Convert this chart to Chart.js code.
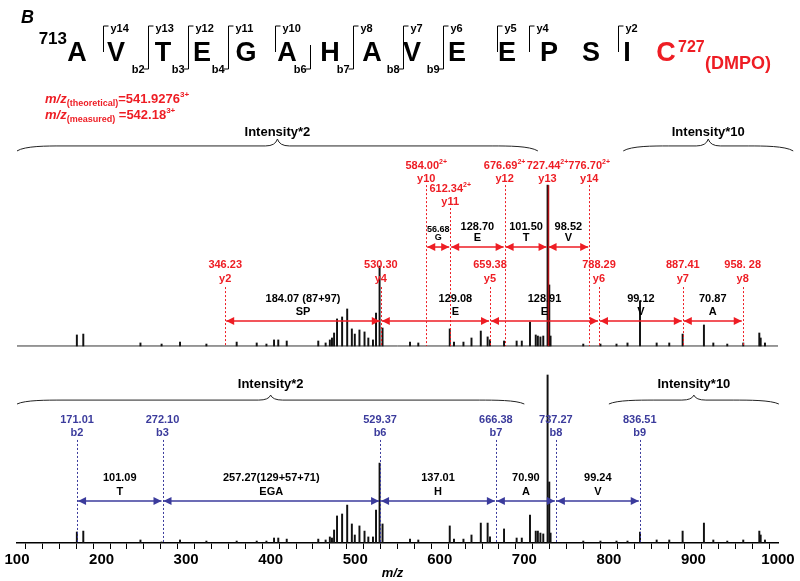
<!DOCTYPE html>
<html>
<head>
<meta charset="utf-8">
<title>MS/MS spectrum - peptide 713-727 (DMPO)</title>
<script src="https://cdn.jsdelivr.net/npm/chart.js@4.4.0/dist/chart.umd.min.js"></script>
<style>
  html, body { margin: 0; padding: 0; background: #fff; }
  #wrap { width: 800px; height: 581px; }
</style>
</head>
<body>
<div id="wrap"><canvas id="spectrum" width="800" height="581"></canvas></div>
<script>
// peak list, m/z and relative intensity (upper and lower trace)
var peakMz = [170.8, 178.4, 246.0, 271.0, 292.8, 324.0, 359.8, 383.5, 395.0, 404.0,
	409.0, 419.0, 456.3, 465.0, 470.0, 472.5, 475.0, 478.5, 484.5, 490.5,
	496.0, 499.5, 505.0, 511.0, 515.5, 521.0, 524.6, 528.8, 532.3, 564.8,
	574.6, 611.8, 616.8, 628.0, 637.5, 648.5, 656.6, 659.4, 676.0, 690.9,
	697.0, 706.7, 713.5, 716.0, 719.0, 722.4, 727.5, 729.5, 731.0, 769.7,
	790.0, 809.0, 822.0, 836.8, 856.5, 871.4, 887.2, 912.4, 923.5, 940.0,
	958.9, 977.9, 979.5, 984.6];
var topInt = [6.2, 6.7, 1.7, 1.1, 2.2, 1.1, 2.2, 1.7, 1.1, 3.4,
	3.4, 2.8, 2.8, 1.7, 3.4, 4.5, 7.3, 15.2, 16.3, 20.8,
	9.6, 6.7, 9.0, 7.9, 4.5, 3.4, 18.5, 44.9, 10.1, 2.2,
	1.7, 9.6, 2.2, 2.2, 4.5, 8.4, 5.1, 3.4, 2.8, 2.8,
	2.8, 13.5, 6.2, 5.6, 5.1, 5.6, 90.4, 34.3, 5.6, 1.1,
	1.1, 1.1, 1.7, 25.3, 1.7, 1.7, 6.7, 11.8, 1.7, 1.1,
	1.7, 7.3, 4.5, 1.7];
var bottomInt = [6.2, 6.7, 1.7, 0.6, 1.7, 1.1, 1.1, 1.1, 1.1, 2.8,
	2.8, 2.2, 2.2, 1.7, 3.4, 2.8, 7.3, 15.2, 16.3, 21.3,
	10.7, 4.5, 9.6, 6.7, 3.4, 3.4, 18.5, 44.9, 10.7, 2.2,
	1.7, 9.6, 2.2, 2.2, 4.5, 11.2, 11.2, 3.4, 7.9, 2.8,
	2.8, 15.7, 6.7, 6.7, 5.6, 5.1, 94.4, 34.3, 5.6, 1.1,
	1.1, 1.1, 1.1, 6.2, 1.7, 1.7, 6.7, 11.2, 1.7, 1.1,
	1.7, 6.7, 4.5, 1.7];

// y ions, singly charged
var yMz = [346.23, 530.30, 659.38, 788.29, 887.41, 958.28];
var yText = ['346.23', '530.30', '659.38', '788.29', '887.41', '958. 28'];
var yName = ['y2', 'y4', 'y5', 'y6', 'y7', 'y8'];
var yGap = ['184.07 (87+97)', '129.08', '128.91', '99.12', '70.87'];
var yGapAa = ['SP', 'E', 'E', 'V', 'A'];

// y ions, doubly charged
var y2Mz = [584.00, 612.34, 676.69, 727.44, 776.70];
var y2Text = ['584.00', '612.34', '676.69', '727.44', '776.70'];
var y2Name = ['y10', 'y11', 'y12', 'y13', 'y14'];
var y2Gap = ['56.68', '128.70', '101.50', '98.52'];
var y2GapAa = ['G', 'E', 'T', 'V'];

// b ions
var bMz = [171.01, 272.10, 529.37, 666.38, 737.27, 836.51];
var bText = ['171.01', '272.10', '529.37', '666.38', '737.27', '836.51'];
var bName = ['b2', 'b3', 'b6', 'b7', 'b8', 'b9'];
var bGap = ['101.09', '257.27(129+57+71)', '137.01', '70.90', '99.24'];
var bGapAa = ['T', 'EGA', 'H', 'A', 'V'];

// scaling regions
var braceFrom = [100, 817];
var braceTo = [716, 1018];
var braceFromBot = [100, 800];
var braceToBot = [700, 1001];
var braceText = ['Intensity*2', 'Intensity*10'];

var residues = ['A', 'V', 'T', 'E', 'G', 'A', 'H', 'A', 'V', 'E', 'E', 'P', 'S', 'I'];

var red = '#ee1d24';
var blue = '#3b3b9c';
var fam = 'Arial, "Liberation Sans", Helvetica, sans-serif';

function text(ctx, s, x, y, font, color, align) {
	ctx.font = font;
	ctx.fillStyle = color;
	ctx.textAlign = align || 'center';
	ctx.textBaseline = 'middle';
	ctx.fillText(s, x, y);
}

// value with a small superscript, centred as a whole on x
function supText(ctx, main, sup, x, y, size, color) {
	ctx.font = 'bold ' + size + 'px ' + fam;
	var w1 = ctx.measureText(main).width;
	ctx.font = 'bold ' + (size - 4) + 'px ' + fam;
	var w2 = ctx.measureText(sup).width;
	var x0 = x - (w1 + w2) / 2;
	text(ctx, main, x0, y, 'bold ' + size + 'px ' + fam, color, 'left');
	text(ctx, sup, x0 + w1, y - 4, 'bold ' + (size - 4) + 'px ' + fam, color, 'left');
}

function vline(ctx, x, y1, y2, color, dashed, width) {
	ctx.save();
	ctx.strokeStyle = color;
	ctx.lineWidth = width || 1;
	if (dashed) ctx.setLineDash([2, 2]);
	ctx.beginPath();
	ctx.moveTo(Math.round(x) + 0.5, y1);
	ctx.lineTo(Math.round(x) + 0.5, y2);
	ctx.stroke();
	ctx.restore();
}

function arrow(ctx, x1, x2, y, color) {
	var h = 8, w = 4;
	ctx.save();
	ctx.strokeStyle = color;
	ctx.fillStyle = color;
	ctx.lineWidth = 1.5;
	ctx.beginPath();
	ctx.moveTo(x1 + 1, y);
	ctx.lineTo(x2 - 1, y);
	ctx.stroke();
	ctx.beginPath();
	ctx.moveTo(x1 + 1, y);
	ctx.lineTo(x1 + 1 + h, y - w);
	ctx.lineTo(x1 + 1 + h, y + w);
	ctx.closePath();
	ctx.fill();
	ctx.beginPath();
	ctx.moveTo(x2 - 1, y);
	ctx.lineTo(x2 - 1 - h, y - w);
	ctx.lineTo(x2 - 1 - h, y + w);
	ctx.closePath();
	ctx.fill();
	ctx.restore();
}

function brace(ctx, x1, x2, yEnd, yFlat, yTip) {
	var xm = (x1 + x2) / 2;
	ctx.save();
	ctx.strokeStyle = '#222';
	ctx.lineWidth = 1;
	ctx.beginPath();
	ctx.moveTo(x1, yEnd);
	ctx.bezierCurveTo(x1 + 8, yFlat, x1 + 30, yFlat, x1 + 45, yFlat);
	ctx.lineTo(xm - 12, yFlat);
	ctx.quadraticCurveTo(xm - 2, yFlat, xm, yTip);
	ctx.quadraticCurveTo(xm + 2, yFlat, xm + 12, yFlat);
	ctx.lineTo(x2 - 45, yFlat);
	ctx.bezierCurveTo(x2 - 30, yFlat, x2 - 8, yFlat, x2, yEnd);
	ctx.stroke();
	ctx.restore();
}

function runs(ctx, parts, x, y, color) {
	ctx.fillStyle = color;
	ctx.textAlign = 'left';
	ctx.textBaseline = 'alphabetic';
	parts.forEach(function (p) {
		ctx.font = p[1] + ' ' + fam;
		ctx.fillText(p[0], x, y + (p[2] || 0));
		x += ctx.measureText(p[0]).width;
	});
}

function drawHeader(ctx) {
	ctx.save();
	ctx.fillStyle = '#000';
	ctx.textBaseline = 'alphabetic';
	ctx.textAlign = 'left';
	ctx.font = 'italic bold 18px ' + fam;
	ctx.fillText('B', 21, 23);

	ctx.textAlign = 'right';
	ctx.font = 'bold 17px ' + fam;
	ctx.fillText('713', 67, 44);

	var resX = [77, 116, 163, 202, 246, 287, 330, 372, 412, 457, 507, 549, 591, 627];
	ctx.textAlign = 'center';
	ctx.font = 'bold 27px ' + fam;
	residues.forEach(function (r, i) {
		ctx.fillText(r, resX[i], 61);
	});

	ctx.fillStyle = red;
	ctx.fillText('C', 666, 61);
	ctx.textAlign = 'left';
	ctx.font = 'bold 16px ' + fam;
	ctx.fillText('727', 678, 52);
	ctx.font = 'bold 18px ' + fam;
	ctx.fillText('(DMPO)', 705, 69);

	// cleavage brackets
	var sites = [
		[103, 'y14', null], [148, 'y13', 'b2'], [188, 'y12', 'b3'], [228, 'y11', 'b4'],
		[275, 'y10', null], [310, null, 'b6'], [353, 'y8', 'b7'], [403, 'y7', 'b8'],
		[443, 'y6', 'b9'], [497, 'y5', null], [529, 'y4', null], [618, 'y2', null]
	];
	ctx.strokeStyle = '#000';
	ctx.lineWidth = 1;
	sites.forEach(function (s) {
		var x = s[0] + 0.5;
		var top = s[1] ? 26 : 45;
		var bot = s[2] ? 69 : 52;
		ctx.beginPath();
		if (s[1]) { ctx.moveTo(x + 5, top); ctx.lineTo(x, top); }
		else ctx.moveTo(x, top);
		ctx.lineTo(x, bot);
		if (s[2]) ctx.lineTo(x - 5, bot);
		ctx.stroke();
		if (s[1]) text(ctx, s[1], x + 7, 29, 'bold 11px ' + fam, '#000', 'left');
		if (s[2]) text(ctx, s[2], x - 4, 70, 'bold 11px ' + fam, '#000', 'right');
	});

	runs(ctx, [['m/z', 'italic bold 13px'], ['(theoretical)', 'bold 9px', 3],
		['=541.9276', 'bold 13px'], ['3+', 'bold 8px', -6]], 45, 103, red);
	runs(ctx, [['m/z', 'italic bold 13px'], ['(measured)', 'bold 9px', 3],
		[' =542.18', 'bold 13px'], ['3+', 'bold 8px', -6]], 45, 119, red);
	ctx.restore();
}

var annotate = {
	id: 'annotate',
	afterDatasetsDraw: function (chart) {
		var ctx = chart.ctx;
		var sx = chart.scales.x, st = chart.scales.yTop, sb = chart.scales.yBot;
		var X = function (v) { return sx.getPixelForValue(v); };
		var T = function (v) { return st.getPixelForValue(v); };
		var B = function (v) { return sb.getPixelForValue(v); };
		var f11 = 'bold 11px ' + fam;
		ctx.save();

		drawHeader(ctx);

		// braces
		braceText.forEach(function (s, i) {
			var a = X(braceFrom[i]), b = X(braceTo[i]);
			brace(ctx, a, b, T(109.6), T(112.4), T(116.3));
			text(ctx, s, (a + b) / 2, T(120.2), 'bold 13px ' + fam, '#000');
			a = X(braceFromBot[i]); b = X(braceToBot[i]);
			brace(ctx, a, b, B(78.1), B(80.3), B(83.1));
			text(ctx, s, (a + b) / 2, B(89.3), 'bold 13px ' + fam, '#000');
		});

		// singly charged y ions
		var shift = [0, 20, 0, 0, 0];
		yMz.forEach(function (m, i) {
			var x = X(m);
			vline(ctx, x, T(33.1), T(0), red, true);
			text(ctx, yText[i], x, T(45.5), f11, red);
			text(ctx, yName[i], x, T(37.6), f11, red);
		});
		yGap.forEach(function (g, i) {
			var a = X(yMz[i]), b = X(yMz[i + 1]);
			arrow(ctx, a, b, T(14), red);
			text(ctx, g, (a + b) / 2 + shift[i], T(26.4), f11, '#000');
			text(ctx, yGapAa[i], (a + b) / 2 + shift[i], T(19.1), f11, '#000');
		});

		// doubly charged y ions
		y2Mz.forEach(function (m, i) {
			var x = X(m);
			var low = i === 1 ? 12.9 : 0;
			if (y2Name[i] === 'y13') vline(ctx, x, T(90.4), T(0), '#b01015', false, 1.5);
			else vline(ctx, x, T(90.4 - low), T(0), red, true);
			supText(ctx, y2Text[i], '2+', x, T(101.1 - low), 11, red);
			text(ctx, y2Name[i], x, T(93.8 - low), f11, red);
		});
		y2Gap.forEach(function (g, i) {
			var a = X(y2Mz[i]), b = X(y2Mz[i + 1]);
			// the first gap is narrow, so its label is set smaller
			var small = i === 0;
			var f = small ? 'bold 9px ' + fam : f11;
			arrow(ctx, a, b, T(55.6), red);
			text(ctx, g, (a + b) / 2, T(small ? 65.2 : 66.9), f, '#000');
			text(ctx, y2GapAa[i], (a + b) / 2, T(60.7), f, '#000');
		});

		// b ions
		bMz.forEach(function (m, i) {
			var x = X(m);
			vline(ctx, x, B(57.9), B(0), blue, true);
			text(ctx, bText[i], x, B(69.1), f11, blue);
			text(ctx, bName[i], x, B(61.8), f11, blue);
		});
		bGap.forEach(function (g, i) {
			var a = X(bMz[i]), b = X(bMz[i + 1]);
			arrow(ctx, a, b, B(23.6), blue);
			text(ctx, g, (a + b) / 2, B(36.5), f11, '#000');
			text(ctx, bGapAa[i], (a + b) / 2, B(28.7), f11, '#000');
		});

		// axis title
		text(ctx, 'm/z', (chart.chartArea.left + chart.chartArea.right) / 2 - 5, 573, 'italic bold 13px ' + fam, '#000');
		ctx.restore();
	}
};

function peaks(values) {
	return peakMz.map(function (m, i) { return { x: m, y: values[i] }; });
}

var ctx = document.getElementById('spectrum').getContext('2d');
var chart = new Chart(ctx, {
	type: 'bar',
	data: {
		datasets: [{
			label: 'upper',
			yAxisID: 'yTop',
			data: peaks(topInt),
			backgroundColor: '#111',
			barThickness: 1.3,
			grouped: false
		}, {
			label: 'lower',
			yAxisID: 'yBot',
			data: peaks(bottomInt),
			backgroundColor: '#111',
			barThickness: 1.3,
			grouped: false
		}, {
			type: 'line',
			label: 'baseline',
			yAxisID: 'yTop',
			data: [{ x: 100, y: 0 }, { x: 1000, y: 0 }],
			borderColor: '#333',
			borderWidth: 1,
			pointRadius: 0
		}]
	},
	options: {
		responsive: false,
		animation: false,
		layout: { padding: { left: 17, right: 22, top: 0, bottom: 10 } },
		plugins: { legend: { display: false }, tooltip: { enabled: false } },
		scales: {
			x: {
				type: 'linear',
				min: 100,
				max: 1000,
				offset: false,
				ticks: {
					stepSize: 20,
					autoSkip: false,
					maxRotation: 0,
					padding: 2,
					color: '#000',
					font: { size: 15, weight: 'bold', family: fam },
					callback: function (v) { return v % 100 === 0 ? v : ''; }
				},
				grid: { drawOnChartArea: false, tickLength: 6, color: '#000' },
				border: { color: '#000', width: 1.5 }
			},
			yTop: { display: false, min: -110.7, max: 194.4 },
			yBot: { display: false, min: 0, max: 305.1 }
		}
	},
	plugins: [annotate]
});
</script>
</body>
</html>
